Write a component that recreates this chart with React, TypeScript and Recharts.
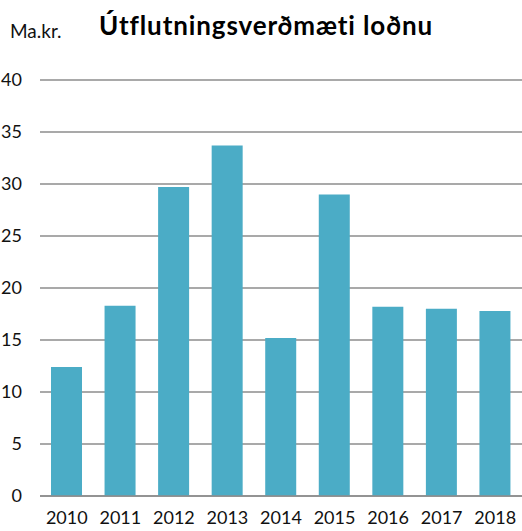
import React from 'react';
import { BarChart, Bar, XAxis, YAxis, CartesianGrid } from 'recharts';

const years = ['2010', '2011', '2012', '2013', '2014', '2015', '2016', '2017', '2018'];
const values = [12.4, 18.3, 29.7, 33.7, 15.2, 29.0, 18.2, 18.0, 17.8];
const yTicks = [0, 5, 10, 15, 20, 25, 30, 35, 40];
const title = 'Útflutningsverðmæti loðnu';
const unitLabel = 'Ma.kr.';

const data = years.map((y, i) => ({ year: y, value: values[i] }));

const FONT = 'Lato, "Open Sans", sans-serif';

export default function App() {
  return (
    <div style={{ position: 'absolute', left: 0, top: 0, width: 522, height: 531, background: '#fff', fontFamily: FONT }}>
      <BarChart
        width={522}
        height={531}
        data={data}
        margin={{ top: 80, right: 0, left: 0, bottom: 0 }}
        barSize={31}
      >
        <CartesianGrid vertical={false} stroke="#8c8c8c" strokeWidth={1.5} />
        <XAxis
          dataKey="year"
          height={35}
          axisLine={{ stroke: '#8c8c8c', strokeWidth: 1.5 }}
          tickLine={false}
          tickSize={0}
          tickMargin={15}
          tick={{ fill: '#111', fontSize: 18, fontFamily: FONT }}
          interval={0}
        />
        <YAxis
          width={40}
          domain={[0, 40]}
          ticks={yTicks}
          axisLine={false}
          tickLine={false}
          tickSize={0}
          tickMargin={18}
          tick={{ fill: '#111', fontSize: 18, fontFamily: FONT }}
          interval={0}
        />
        <Bar dataKey="value" fill="#4BACC6" isAnimationActive={false} />
      </BarChart>
      <div style={{ position: 'absolute', left: 10, top: 20, fontSize: 19, lineHeight: 1.2, color: '#111', fontFamily: FONT }}>{unitLabel}</div>
      <div style={{ position: 'absolute', left: 99, top: 10, fontSize: 26, lineHeight: 1.2, letterSpacing: 0.9, fontWeight: 'bold', color: '#000', fontFamily: FONT, whiteSpace: 'nowrap' }}>{title}</div>
    </div>
  );
}
